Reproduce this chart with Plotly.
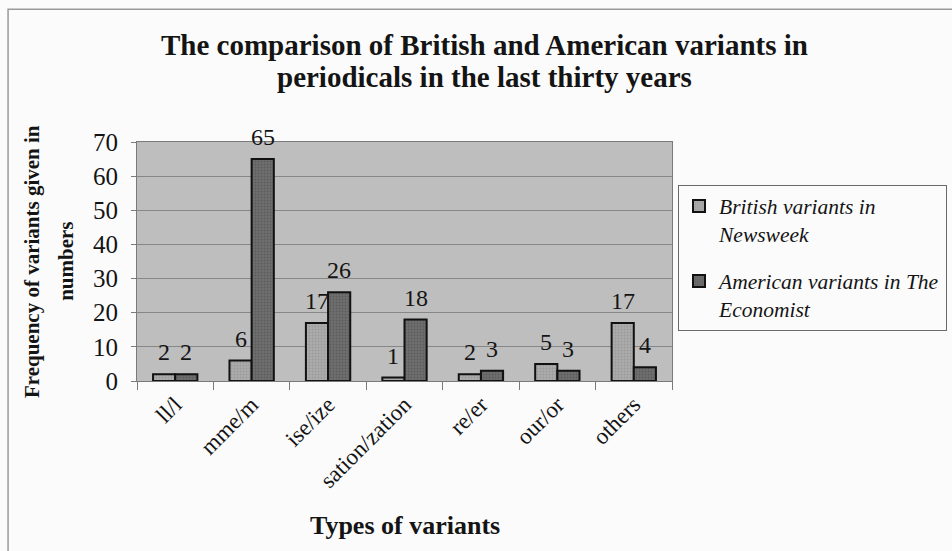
import plotly.graph_objects as go

categories = ["ll/l", "mme/m", "ise/ize", "sation/zation", "re/er", "our/or", "others"]
british = [2, 6, 17, 1, 2, 5, 17]
american = [2, 65, 26, 18, 3, 3, 4]
series_names = ["British variants in<br>Newsweek", "American variants in The<br>Economist"]
y_ticks = [0, 10, 20, 30, 40, 50, 60, 70]
title_lines = ["The comparison of British and American variants in",
               "periodicals in the last thirty years"]

SERIF = "Liberation Serif, Times New Roman, DejaVu Serif, serif"
INK = "#141414"
BARGAP = 0.42
HALF = (1 - BARGAP) / 4  # offset of each bar's centre from its category centre

fig = go.Figure()
fig.add_trace(go.Bar(
    x=categories, y=british, name=series_names[0], legendgroup="gb",
    marker=dict(color="#ababab", line=dict(color="#111111", width=2),
                pattern=dict(shape=".", fgcolor="#8a8a8a", size=3, solidity=0.3)),
))
fig.add_trace(go.Bar(
    x=categories, y=american, name=series_names[1], legendgroup="us",
    marker=dict(color="#6e6e6e", line=dict(color="#111111", width=2),
                pattern=dict(shape=".", fgcolor="#4a4a4a", size=3, solidity=0.3)),
))

# value labels floating above each bar
annotations = []
for values, off in ((british, -HALF), (american, HALF)):
    for i, v in enumerate(values):
        annotations.append(dict(
            x=i + off, y=v, xref="x", yref="y", text=str(v), showarrow=False,
            yanchor="bottom", yshift=7,
            font=dict(family=SERIF, size=24, color=INK),
        ))

# chart title, one annotation per line for tight line spacing
for text, ypos in zip(title_lines, (1.406, 1.272)):
    annotations.append(dict(
        text=f"<b>{text}</b>", showarrow=False, xref="paper", yref="paper",
        x=0.649, y=ypos, xanchor="center", yanchor="middle",
        font=dict(family=SERIF, size=29, color=INK),
    ))

# two-line vertical axis title and the category axis title
annotations += [
    dict(text="<b>Frequency of variants given in</b>", textangle=-90, showarrow=False,
         xref="paper", yref="paper", x=-0.197, y=0.5, xanchor="center", yanchor="middle",
         font=dict(family=SERIF, size=21, color=INK)),
    dict(text="<b>numbers</b>", textangle=-90, showarrow=False,
         xref="paper", yref="paper", x=-0.134, y=0.5, xanchor="center", yanchor="middle",
         font=dict(family=SERIF, size=21, color=INK)),
    dict(text="<b>Types of variants</b>", showarrow=False,
         xref="paper", yref="paper", x=0.5, y=-0.605, xanchor="center", yanchor="middle",
         font=dict(family=SERIF, size=26, color=INK)),
]

fig.update_layout(
    width=952, height=551,
    margin=dict(l=137, r=280, t=142, b=170, autoexpand=False),
    paper_bgcolor="#fbfbfb",
    plot_bgcolor="#bebebe",
    barmode="group", bargap=BARGAP, bargroupgap=0.0,
    showlegend=True,
    legend=dict(
        x=1.0112, y=0.822, xanchor="left", yanchor="top", xref="paper",
        font=dict(family=SERIF, size=21.5, color=INK, style="italic"),
        bgcolor="#fbfbfb", bordercolor="#6a6a6a", borderwidth=1,
        tracegroupgap=16, itemwidth=30, valign="top",
    ),
    xaxis=dict(
        tickangle=-45, tickfont=dict(family=SERIF, size=23, color=INK),
        tickson="boundaries", ticks="outside", ticklen=8, tickcolor="#7a7a7a",
        showline=True, linecolor="#7a7a7a", linewidth=1, mirror=True,
        range=[-0.5, len(categories) - 0.5],
    ),
    yaxis=dict(
        range=[0, 70], tickvals=y_ticks,
        tickfont=dict(family=SERIF, size=25, color=INK),
        ticks="outside", ticklen=5, tickcolor="#7a7a7a", ticklabelstandoff=8,
        showline=True, linecolor="#7a7a7a", linewidth=1, mirror=True,
        gridcolor="#878787", gridwidth=1, zeroline=False,
    ),
    annotations=annotations,
    shapes=[dict(type="rect", xref="paper", yref="paper", x0=-0.241, x1=1.6, y0=-0.73, y1=1.555,
                 line=dict(color="#9a9a9a", width=1.5), fillcolor="rgba(0,0,0,0)", layer="below")],
)

fig.write_html("out.html")
